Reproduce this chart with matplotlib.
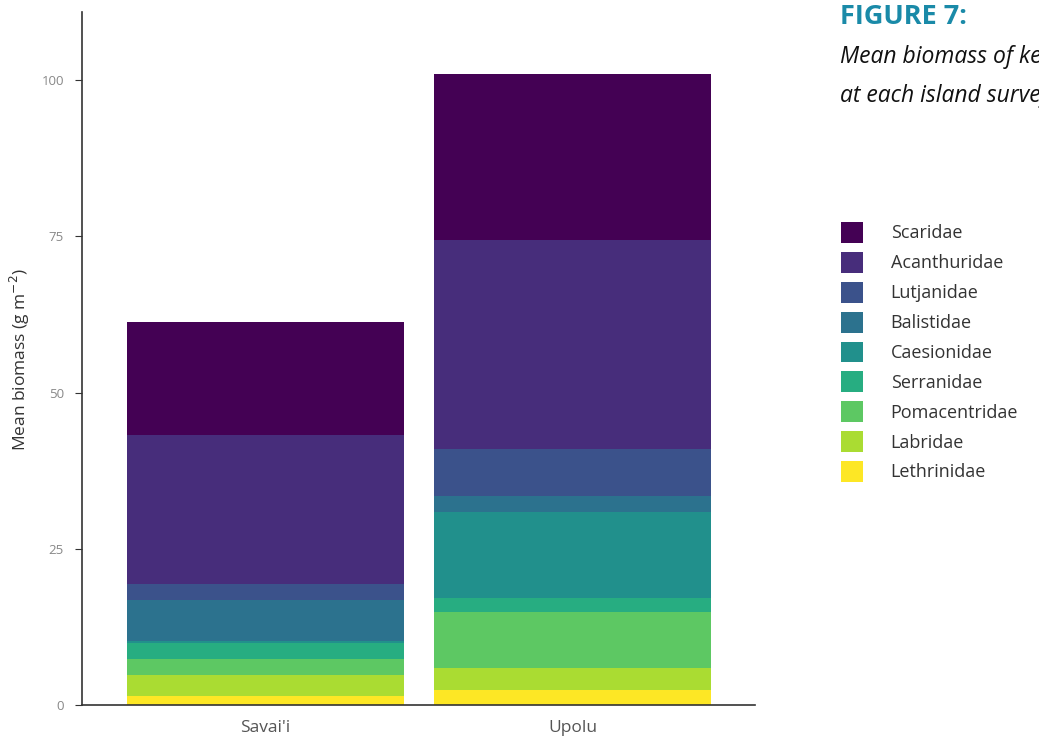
import matplotlib

matplotlib.use("Agg")
import matplotlib.pyplot as plt
import numpy as np
from matplotlib.patches import Patch

islands = ["Savai'i", "Upolu"]
families = ["Scaridae", "Acanthuridae", "Lutjanidae", "Balistidae", "Caesionidae",
            "Serranidae", "Pomacentridae", "Labridae", "Lethrinidae"]
# mean biomass (g m^-2) per family, [Savai'i, Upolu]
scaridae = [18.1, 26.6]
acanthuridae = [23.8, 33.5]
lutjanidae = [2.6, 7.5]
balistidae = [6.6, 2.5]
caesionidae = [0.3, 13.7]
serranidae = [2.5, 2.3]
pomacentridae = [2.6, 9.0]
labridae = [3.3, 3.5]
lethrinidae = [1.5, 2.4]
colors = ["#440154", "#472D7B", "#3B528B", "#2C728E", "#21908C",
          "#27AD81", "#5DC863", "#AADC32", "#FDE725"]

values = [scaridae, acanthuridae, lutjanidae, balistidae, caesionidae,
          serranidae, pomacentridae, labridae, lethrinidae]

plt.rcParams["font.family"] = ["Open Sans", "DejaVu Sans"]
fig = plt.figure(figsize=(10.39, 7.39), dpi=100)
ax = fig.add_axes([82 / 1039, 34 / 739, 673 / 1039, 693 / 739])

x = np.arange(1, len(islands) + 1)
bottom = np.zeros(len(islands))
# stack from the bottom (last family) upwards
for fam, vals, col in reversed(list(zip(families, values, colors))):
    ax.bar(x, vals, width=0.9, bottom=bottom, color=col, label=fam, linewidth=0)
    bottom += np.array(vals)

ax.set_xlim(0.402, 2.594)
ax.set_ylim(0, 110.9)
ax.set_xticks(x, islands)
ax.set_yticks([0, 25, 50, 75, 100])
ax.tick_params(axis="y", labelsize=9.5, labelcolor="#888888", color="#333333", length=5, pad=8)
ax.tick_params(axis="x", labelsize=12.5, labelcolor="#555555", length=0, pad=11)
for s in ["top", "right"]:
    ax.spines[s].set_visible(False)
for s in ["left", "bottom"]:
    ax.spines[s].set_color("#333333")
    ax.spines[s].set_linewidth(1.2)
fig.text(20 / 1039, 1 - 360 / 739, "Mean biomass (g m$^{-2}$)", fontsize=12.5,
         color="#333333", rotation=90, ha="center", va="center")

handles = [Patch(facecolor=c, edgecolor="none") for c in colors]
fig.legend(handles, families, loc="upper left", bbox_to_anchor=(841 / 1039, 1 - 222 / 739),
           frameon=False, fontsize=13, handlelength=1.2, handleheight=1.4,
           handletextpad=1.55, labelspacing=0.5, borderpad=0, borderaxespad=0,
           labelcolor="#333333")

fig.text(840 / 1039, 1 - 17 / 739, "FIGURE 7:", fontsize=19.5, fontweight="bold",
         color="#1a8aa8", va="center", ha="left")
fig.text(840 / 1039, 1 - 57 / 739, "Mean biomass of key fish families", fontsize=16.5,
         style="italic", color="#111111", va="center", ha="left")
fig.text(840 / 1039, 1 - 96 / 739, "at each island surveyed", fontsize=16.5,
         style="italic", color="#111111", va="center", ha="left")

fig.savefig("out.png", dpi=100)
